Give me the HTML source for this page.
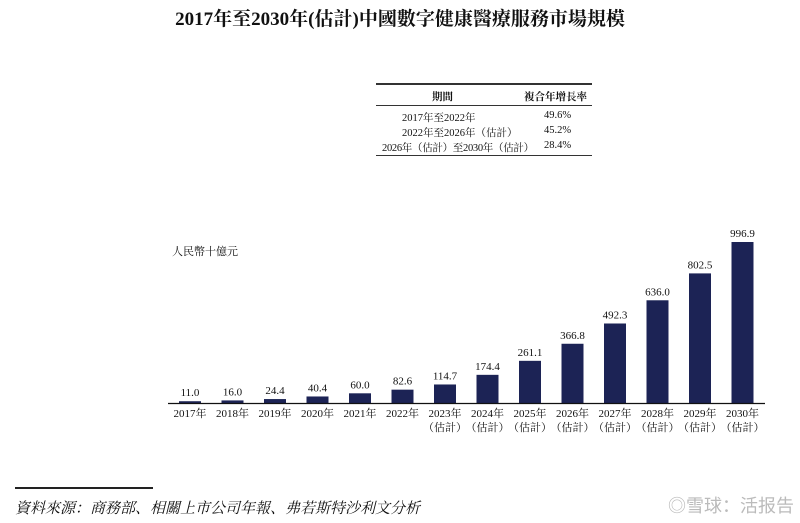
<!DOCTYPE html>
<html><head><meta charset="utf-8"><style>
body{margin:0;background:#fff;width:800px;height:523px;overflow:hidden;position:relative;font-family:"Liberation Serif","Noto Serif CJK SC",serif;color:#111}
.t{position:absolute;white-space:nowrap}
</style></head><body>
<div class="t" style="left:0;width:800px;top:4px;text-align:center;font-size:19px;font-weight:bold">2017年至2030年(估計)中國數字健康醫療服務市場規模</div>
<div style="position:absolute;left:376px;top:83px;width:216px;height:70px;border-top:2px solid #333;border-bottom:1px solid #333;font-size:10.5px">
 <div style="position:absolute;left:0;right:0;top:20px;border-top:1px solid #333"></div>
 <div class="t" style="left:56px;top:4px;font-weight:bold">期間</div>
 <div class="t" style="left:148px;top:4px;font-weight:bold">複合年增長率</div>
 <div class="t" style="left:26px;top:25px">2017年至2022年</div><div class="t" style="left:168px;top:25px">49.6%</div>
 <div class="t" style="left:26px;top:40px">2022年至2026年（估計）</div><div class="t" style="left:168px;top:40px">45.2%</div>
 <div class="t" style="left:6px;top:55px;letter-spacing:-0.3px">2026年（估計）至2030年（估計）</div><div class="t" style="left:168px;top:55px">28.4%</div>
</div>
<div class="t" style="left:172px;top:243px;font-size:11px">人民幣十億元</div>
<svg id="c" width="800" height="523" style="position:absolute;left:0;top:0" font-family="Liberation Serif, Noto Serif CJK SC, serif"></svg>
<div style="position:absolute;left:15px;top:487px;width:138px;border-top:2px solid #222"></div>
<div class="t" style="left:15px;top:497px;font-size:15px;font-style:italic">資料來源：商務部、相關上市公司年報、弗若斯特沙利文分析</div>
<div class="t" style="left:668px;top:492px;font-size:18px;color:#bbb;font-family:'Liberation Sans','Noto Sans CJK SC',sans-serif">◎雪球：活报告</div>
<script>
const years=["2017","2018","2019","2020","2021","2022","2023","2024","2025","2026","2027","2028","2029","2030"];
const values=[11.0,16.0,24.4,40.4,60.0,82.6,114.7,174.4,261.1,366.8,492.3,636.0,802.5,996.9];
const estimated=[false,false,false,false,false,false,true,true,true,true,true,true,true,true];
const svg=document.getElementById('c');const NS='http://www.w3.org/2000/svg';
const base=403,x0=190,step=42.5,bw=22,k=161/996.9;
const xs=i=>x0+i*step, ys=v=>base-v*k;
function mk(t,a){const e=document.createElementNS(NS,t);for(const n in a)e.setAttribute(n,a[n]);svg.appendChild(e);return e;}
values.forEach((v,i)=>{
 const r=mk('rect',{x:xs(i)-bw/2,y:ys(v),width:bw,height:base-ys(v),fill:'#1c2355'});
 
 
 const t=mk('text',{x:xs(i),y:ys(v)-5,'text-anchor':'middle','font-size':11,fill:'#111'});t.textContent=v.toFixed(1);
 
 
 const l=mk('text',{x:xs(i),y:base+14,'text-anchor':'middle','font-size':11,fill:'#111'});l.textContent=years[i]+'年';
 
 
 if(estimated[i]){const e=mk('text',{x:xs(i),y:base+28,'text-anchor':'middle','font-size':11,fill:'#111'});e.textContent='（估計）';
 
 }
});
const ax=mk('line',{x1:168,x2:765,y1:base+0.5,y2:base+0.5,stroke:'#111','stroke-width':1.3});


</script>
</body></html>
